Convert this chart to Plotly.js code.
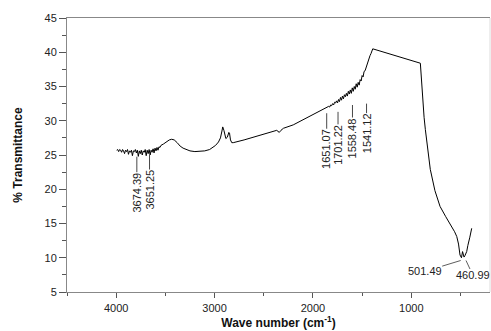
<!DOCTYPE html>
<html>
<head>
<meta charset="utf-8">
<script src="https://cdn.plot.ly/plotly-3.0.1.min.js"></script>
<style>html,body{margin:0;padding:0;background:#fff;}#chart{width:491px;height:331px;}</style>
</head>
<body>
<div id="chart"></div>
<script>
// Wavenumber (cm-1), descending
const waveNumber = [
  3995,3985,3975,3965,3955,3945,3935,3925,3915,3905,3895,3885,3875,3865,3855,3845,3835,3825,3815,3805,
  3795,3785,3775,3765,3755,3745,3735,3725,3715,3705,3695,3685,3675,3665,3655,3645,3635,3625,3615,3605,
  3595,3585,3575,3565,3555,3545,
  3520,3490,3460,3436,3410,3380,3350,3320,3290,3250,3200,3150,3100,3050,3020,2990,2960,2940,2925,2917,
  2905,2895,2885,2870,2855,2848,2838,2825,2810,2700,2600,2500,2400,2368,2355,2342,2325,2300,2200,2131,
  2063,2000,1950,1900,1877,1850,1840,1830,1820,1810,1800,1790,1780,1770,1760,1750,1740,1730,1720,1710,
  1700,1690,1680,1670,1660,1650,1640,1630,1620,1610,1600,1590,1580,1570,1560,1550,1540,1530,1520,1510,
  1500,1490,1480,1470,1460,1450,1440,1430,1420,1410,1400,1392,
  908,891,870,857,830,807,760,708,650,589,560,538,520,505,490,479,471,464,455,446,437,425,415,405,386
];
// % Transmittance
const transmittance = [
  25.7,25.8,25.5,25.8,25.7,25.4,25.8,25.6,25.2,25.7,25.5,25.8,25.1,25.6,25.4,25.7,24.9,25.6,25.5,25.8,
  25.3,25.7,24.8,25.6,25.2,25.7,25.0,25.6,25.4,25.8,24.9,25.7,25.2,25.8,25.0,25.7,25.4,25.9,25.3,26.0,
  25.6,26.1,25.7,26.2,26.1,26.4,
  26.6,26.9,27.2,27.3,27.2,26.8,26.3,26.0,25.8,25.6,25.5,25.5,25.6,25.8,26.1,26.4,26.9,27.5,28.5,29.1,
  28.6,27.8,27.4,27.6,28.3,28.2,27.2,26.8,26.8,27.2,27.6,28.0,28.45,28.6,28.45,28.3,28.6,28.9,29.4,29.9,
  30.5,30.9,31.3,31.6,31.8,32.0,32.1,32.0,32.3,32.2,32.5,32.3,32.7,32.6,32.9,32.6,33.1,32.8,33.4,33.0,
  33.6,33.2,33.8,33.5,34.0,33.6,34.3,33.9,34.5,34.0,34.8,34.3,35.0,34.6,35.4,34.9,35.6,35.2,36.0,35.8,
  36.6,36.4,37.2,37.3,37.8,38.2,38.7,39.1,39.5,39.8,40.2,40.5,
  38.4,34.5,30.5,28.7,25.5,22.9,19.8,17.5,16.0,14.6,13.8,13.1,12.0,10.4,10.0,10.9,10.4,10.1,10.3,10.6,10.9,11.8,12.3,13.0,14.3
];

// Peak labels (vertical): leader-line top point and offset of rotated text
const vLabels = ["3674.39","3651.25","1651.07","1701.22","1558.48","1541.12"];
const vLabelX = [3790,3661,1860,1745,1598,1455];
const vLabelY = [24.75,25.0,31.1,31.3,32.3,32.5];
const vLabelAy = [36,35,36,33,33,30];
// Peak labels (diagonal leaders)
const dLabels = ["501.49","460.99"];
const dLabelX = [498,444];
const dLabelY = [9.6,9.6];
const dLabelAx = [-36,7];
const dLabelAy = [11,15];

const xTicks = [4000,3000,2000,1000];
const yTicks = [5,10,15,20,25,30,35,40,45];

const font = "Liberation Sans, Arial, sans-serif";
const annotations = [];
vLabels.forEach((t,i)=>annotations.push({
  x: vLabelX[i], y: vLabelY[i], xref:'x', yref:'y', text: t, textangle:-90,
  showarrow:true, arrowhead:0, arrowwidth:0.9, arrowcolor:'#333', ax:0, ay:vLabelAy[i],
  standoff:0, borderpad:0, font:{family:font,size:11,color:'#222'}
}));
dLabels.forEach((t,i)=>annotations.push({
  x: dLabelX[i], y: dLabelY[i], xref:'x', yref:'y', text: t,
  showarrow:true, arrowhead:0, arrowwidth:0.8, arrowcolor:'#333', ax:dLabelAx[i], ay:dLabelAy[i],
  standoff:0, borderpad:0, font:{family:font,size:11,color:'#222'}
}));

const data = [{
  x: waveNumber, y: transmittance, type:'scatter', mode:'lines',
  line:{color:'#000', width:1}, hoverinfo:'skip'
}];

const layout = {
  width:491, height:331,
  margin:{l:67, r:1, t:18, b:39},
  paper_bgcolor:'#fff', plot_bgcolor:'#fff',
  showlegend:false,
  font:{family:font, size:11, color:'#222'},
  xaxis:{
    range:[4500,200], tickvals:xTicks, ticks:'outside', ticklen:5, tickcolor:'#555', tickwidth:1,
    minor:{dtick:500, tick0:0, ticks:'outside', ticklen:3, tickcolor:'#555'},
    showline:true, linecolor:'#888', linewidth:1, mirror:true, showgrid:false, zeroline:false,
    ticklabelstandoff:1,
    tickfont:{family:font,size:11,color:'#222'},
    title:{text:'<b>Wave number (cm<sup>-1</sup>)</b>', font:{family:font,size:12,color:'#111'}, standoff:5}
  },
  yaxis:{
    range:[5,45], tickvals:yTicks, ticks:'outside', ticklen:7, tickcolor:'#555', tickwidth:1,
    minor:{dtick:2.5, tick0:0, ticks:'outside', ticklen:4, tickcolor:'#555'},
    showline:true, linecolor:'#888', linewidth:1, showgrid:false, zeroline:false,
    tickfont:{family:font,size:11,color:'#222'},
    title:{text:'<b>% Transmittance</b>', font:{family:font,size:12,color:'#111'}, standoff:19}
  },
  shapes:[{type:'line', xref:'paper', yref:'paper', x0:1, x1:1, y0:0, y1:1, line:{color:'#ddd', width:1}}],
  annotations: annotations
};

Plotly.newPlot('chart', data, layout, {staticPlot:true, displayModeBar:false});
</script>
</body>
</html>
